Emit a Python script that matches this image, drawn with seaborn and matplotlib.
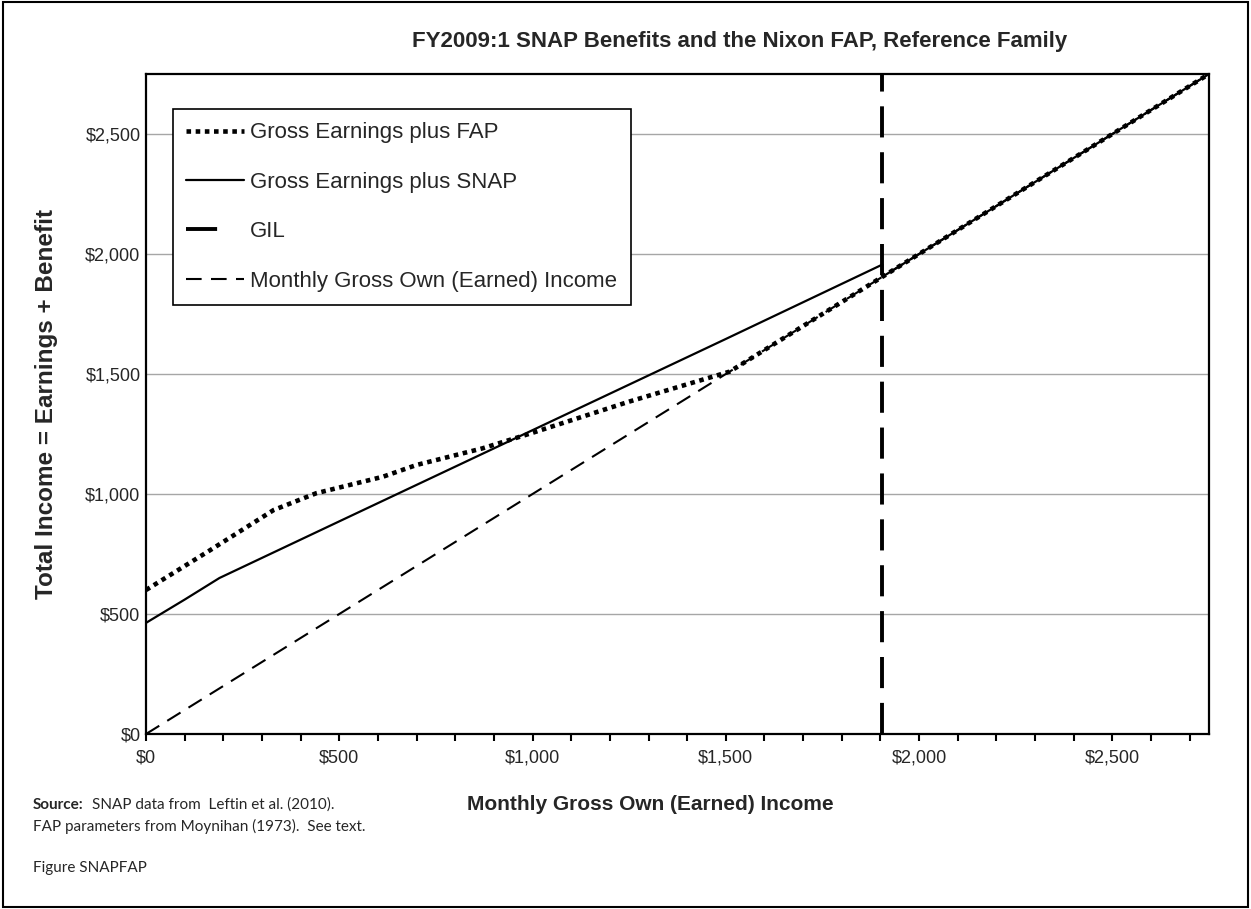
import pandas as pd
import matplotlib.pyplot as plt
import seaborn as sns
from matplotlib.ticker import MultipleLocator, StrMethodFormatter
from matplotlib.patches import Rectangle

# values (monthly dollars)
earn_x = [0, 2750]
earn_y = [0, 2750]

snap_x = [0, 100, 190, 500, 1000, 1500, 1905, 1905, 2750]
snap_y = [463, 560, 650, 886, 1266, 1646, 1956, 1905, 2750]

fap_x = [0, 165, 330, 440, 613, 700, 870, 1000, 1250, 1510, 1905, 2750]
fap_y = [600, 765, 933, 1003, 1072, 1121, 1190, 1255, 1385, 1510, 1905, 2750]

gil_x = [1905, 1905]
gil_y = [0, 2750]

x_ticks = [0, 500, 1000, 1500, 2000, 2500]
y_ticks = [0, 500, 1000, 1500, 2000, 2500]

earn = pd.DataFrame({'x': earn_x, 'y': earn_y})
snap = pd.DataFrame({'x': snap_x, 'y': snap_y})
fap = pd.DataFrame({'x': fap_x, 'y': fap_y})
gil = pd.DataFrame({'x': gil_x, 'y': gil_y})

sns.set_style('white')
plt.rcParams['font.family'] = ['Liberation Sans', 'DejaVu Sans']

fig = plt.figure(figsize=(12.51, 9.09), dpi=100)
ax = fig.add_axes([146 / 1251, 175 / 909, 1063 / 1251, 660 / 909])

# horizontal gridlines
for v in y_ticks[1:]:
    ax.axhline(v, color='#a6a6a6', lw=1.0, zorder=1)

sns.lineplot(data=fap, x='x', y='y', sort=False, estimator=None, ax=ax,
             color='black', lw=3.3, linestyle=(0, (1, 1)), dash_capstyle='butt',
             label='Gross Earnings plus FAP', zorder=4)
sns.lineplot(data=snap, x='x', y='y', sort=False, estimator=None, ax=ax,
             color='black', lw=1.6, label='Gross Earnings plus SNAP', zorder=3)
sns.lineplot(data=gil, x='x', y='y', sort=False, estimator=None, ax=ax,
             color='black', lw=2.8, linestyle=(0, (8, 3.8)), label='GIL', zorder=5)
sns.lineplot(data=earn, x='x', y='y', sort=False, estimator=None, ax=ax,
             color='black', lw=1.5, linestyle=(0, (7.5, 4.5)),
             label='Monthly Gross Own (Earned) Income', zorder=3)

ax.set_xlim(0, 2750)
ax.set_ylim(0, 2750)
ax.set_xticks(x_ticks)
ax.set_yticks(y_ticks)
ax.xaxis.set_minor_locator(MultipleLocator(100))
ax.xaxis.set_major_formatter(StrMethodFormatter('${x:,.0f}'))
ax.yaxis.set_major_formatter(StrMethodFormatter('${x:,.0f}'))
ax.tick_params(axis='x', which='both', direction='out', length=5, width=1.5,
               color='black', labelsize=13, pad=6, bottom=True)
ax.tick_params(axis='y', which='both', length=0, labelsize=13, pad=4)
for lab in ax.get_xticklabels() + ax.get_yticklabels():
    lab.set_color('#262626')

for s in ax.spines.values():
    s.set_color('black')
    s.set_linewidth(1.6)

ax.set_xlabel('Monthly Gross Own (Earned) Income', fontsize=15, fontweight='bold')
ax.set_ylabel('Total Income = Earnings + Benefit', fontsize=17.5, fontweight='bold')
ax.xaxis.set_label_coords(0.474, -0.093)
ax.yaxis.set_label_coords(-0.083, 0.5)

fig.text(740 / 1251, 1 - 42 / 909, 'FY2009:1 SNAP Benefits and the Nixon FAP, Reference Family',
         ha='center', va='center', fontsize=16, fontweight='bold')

leg = ax.legend(loc='upper left', bbox_to_anchor=(0.025, 0.947), fontsize=16,
                frameon=True, fancybox=False, edgecolor='black', framealpha=1,
                handlelength=2.6, handletextpad=0.3, labelspacing=1.28,
                borderpad=0.6, borderaxespad=0)
leg.get_frame().set_linewidth(1.2)
# GIL key shows a single long dash
leg.get_lines()[2].set_linestyle((0, (8, 12)))

# source notes
fig.text(33 / 1251, 1 - 805 / 909, 'Source:', fontsize=11, fontweight='bold',
         family=['Lato', 'DejaVu Sans'], va='center')
fig.text(92 / 1251, 1 - 805 / 909, 'SNAP data from  Leftin et al. (2010).', fontsize=11,
         family=['Lato', 'DejaVu Sans'], va='center')
fig.text(33 / 1251, 1 - 826 / 909, 'FAP parameters from Moynihan (1973).  See text.', fontsize=11,
         family=['Lato', 'DejaVu Sans'], va='center')
fig.text(33 / 1251, 1 - 868 / 909, 'Figure SNAPFAP', fontsize=11,
         family=['Lato', 'DejaVu Sans'], va='center')

# frame round the whole figure
fig.patches.append(Rectangle((0.002, 0.002), 0.996, 0.996, transform=fig.transFigure,
                             fill=False, edgecolor='black', lw=1.5))

fig.savefig('out.png', dpi=100)
